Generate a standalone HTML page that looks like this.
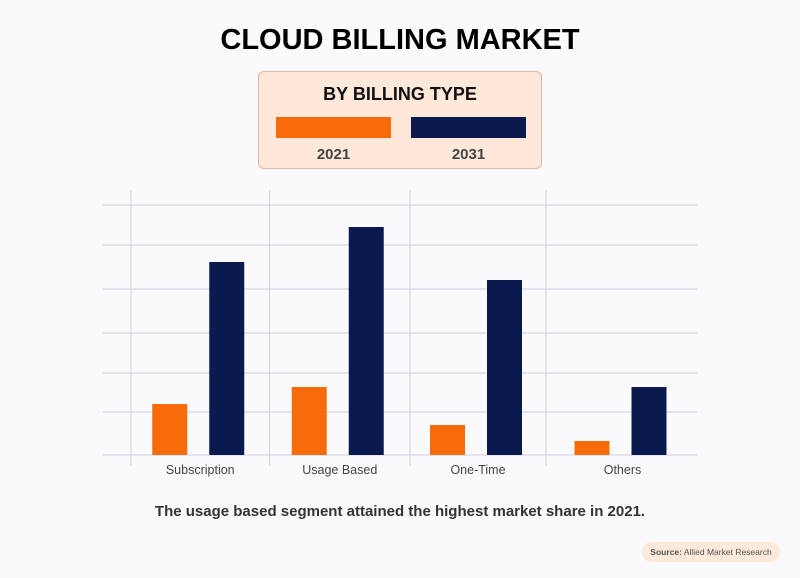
<!DOCTYPE html>
<html><head><meta charset="utf-8"><style>
body{margin:0;width:800px;height:578px;background:#fafafd;font-family:"Liberation Sans",sans-serif;position:relative;overflow:hidden}
.t{position:absolute;left:0;width:800px;text-align:center}
</style></head><body>
<div class="t" style="top:24px;font-size:29px;font-weight:bold;color:#000">CLOUD BILLING MARKET</div>
<div style="position:absolute;left:258px;top:71px;width:282px;height:96px;background:#fde8da;border:1px solid #e0b89e;border-radius:6px">
 <div style="position:absolute;left:0;width:282px;top:12px;text-align:center;font-weight:bold;font-size:18px;color:#111">BY BILLING TYPE</div>
 <div style="position:absolute;left:17px;top:45px;width:115px;height:21px;background:#f76b0a"></div>
 <div style="position:absolute;left:152px;top:45px;width:115px;height:21px;background:#0a1a4e"></div>
 <div style="position:absolute;left:17px;width:115px;top:74px;text-align:center;font-size:15px;font-weight:bold;color:#444">2021</div>
 <div style="position:absolute;left:152px;width:115px;top:74px;text-align:center;font-size:15px;font-weight:bold;color:#444">2031</div>
</div>
<svg id="c" width="800" height="578" style="position:absolute;left:0;top:0"></svg>
<div class="t" style="top:503px;font-size:15px;font-weight:bold;color:#333">The usage based segment attained the highest market share in 2021.</div>
<div style="position:absolute;left:642px;top:542px;width:138px;height:20px;border-radius:10px;background:#fce9d9;font-size:8.5px;color:#555;line-height:20px;text-align:center"><b>Source:</b> Allied Market Research</div>
<script>
const categories=["Subscription","Usage Based","One-Time","Others"];
const values2021=[51,68,30,14];
const values2031=[193,228,175,68];
const svg=document.getElementById('c');const NS='http://www.w3.org/2000/svg';
const baseY=455,maxV=250,topY=205;
function y(v){return baseY-(v/maxV)*(baseY-topY);}
const groupX=[131,269.5,410,546];
function cx(i){return i<3?(groupX[i]+groupX[i+1])/2:(546+697)/2+1;}
function mk(t,a){const e=document.createElementNS(NS,t);for(const k in a)e.setAttribute(k,a[k]);svg.appendChild(e);return e;}
[205,245,289,333,373,412,455].forEach(g=>{const l=mk('line',{x1:103,x2:697,y1:g,y2:g,stroke:'#cfd0da','stroke-width':1});

});
groupX.forEach(x=>{const l=mk('line',{x1:x,x2:x,y1:190,y2:466,stroke:'#cfd0da','stroke-width':1});

});
categories.forEach((c,i)=>{
const m=cx(i);
const b1=mk('rect',{x:m-48,y:y(values2021[i]),width:35,height:baseY-y(values2021[i]),fill:'#f76b0a'});


const b2=mk('rect',{x:m+9,y:y(values2031[i]),width:35,height:baseY-y(values2031[i]),fill:'#0a1a4e'});


const t=mk('text',{x:m,y:474,'text-anchor':'middle','font-size':12.5,fill:'#444','font-family':'Liberation Sans, sans-serif'});
t.textContent=c;


});
</script>
</body></html>
